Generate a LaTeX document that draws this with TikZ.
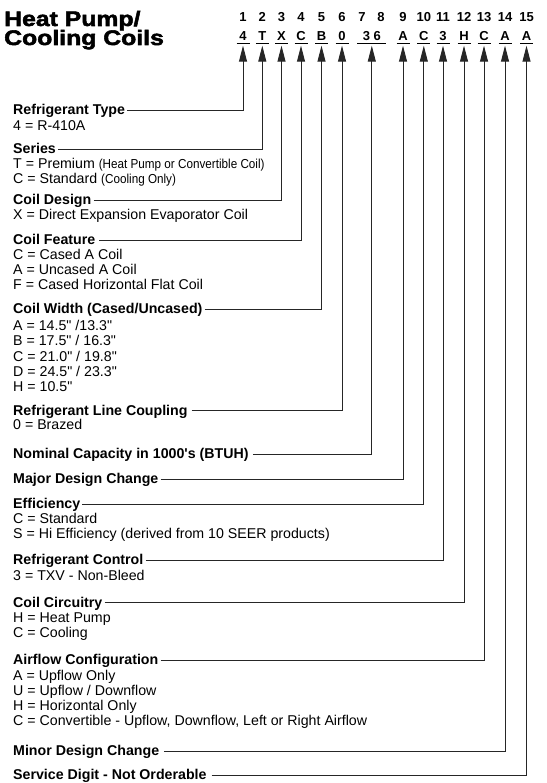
\documentclass[tikz,border=0pt]{standalone}
\usepackage{fontspec}
\usetikzlibrary{arrows.meta}
\setmainfont{Liberation Sans}[Ligatures=TeXOff]
\newfontfamily\hdrfont{Liberation Sans}[FakeStretch=1.18,FakeBold=2.5]
\newfontfamily\condfont{Liberation Sans}[FakeStretch=0.9]
\newcommand\cnd[1]{{\condfont\fontsize{13}{15}\selectfont #1}}
\tikzset{
  hdr/.style={anchor=base west,inner sep=0pt,font=\hdrfont\bfseries\fontsize{21}{21}\selectfont},
  posnum/.style={anchor=base,inner sep=0pt,font=\bfseries\fontsize{13}{13}\selectfont},
  ttl/.style={anchor=base west,inner sep=0pt,font=\bfseries\fontsize{14.2}{15}\selectfont},
  dsc/.style={anchor=base west,inner sep=0pt,font=\fontsize{14.2}{15}\selectfont},
  conn/.style={draw=black!85,line width=0.9pt,-{Triangle[width=8pt,length=16pt]}},
  uline/.style={draw=black,line width=1.2pt}
}
\begin{document}
\begin{tikzpicture}[x=1pt,y=-1pt]
\useasboundingbox (0,0) rectangle (546,783);
% header
\node[hdr] (h1) at (4,26) {Heat Pump/};
\node[hdr] (h2) at (4,45) {Cooling Coils};
% position numbers
\node[posnum] (n1) at (243,21.5) {1};
\node[posnum] (n2) at (262.3,21.5) {2};
\node[posnum] (n3) at (281.5,21.5) {3};
\node[posnum] (n4) at (301,21.5) {4};
\node[posnum] (n5) at (321.5,21.5) {5};
\node[posnum] (n6) at (342,21.5) {6};
\node[posnum] (n7) at (362,21.5) {7};
\node[posnum] (n8) at (381,21.5) {8};
\node[posnum] (n9) at (403,21.5) {9};
\node[posnum] (n10) at (423.8,21.5) {10};
\node[posnum] (n11) at (443,21.5) {11};
\node[posnum] (n12) at (464,21.5) {12};
\node[posnum] (n13) at (484,21.5) {13};
\node[posnum] (n14) at (505,21.5) {14};
\node[posnum] (n15) at (526.5,21.5) {15};
% model letters
\node[posnum] (l1) at (243,40.5) {4};
\node[posnum] (l2) at (262.3,40.5) {T};
\node[posnum] (l3) at (281.5,40.5) {X};
\node[posnum] (l4) at (301,40.5) {C};
\node[posnum] (l5) at (321.5,40.5) {B};
\node[posnum] (l6) at (342,40.5) {0};
\node[posnum] (l78) at (371.8,40.5) {3 6};
\node[posnum] (l9) at (403,40.5) {A};
\node[posnum] (l10) at (423.8,40.5) {C};
\node[posnum] (l11) at (443,40.5) {3};
\node[posnum] (l12) at (464,40.5) {H};
\node[posnum] (l13) at (484,40.5) {C};
\node[posnum] (l14) at (505,40.5) {A};
\node[posnum] (l15) at (526.5,40.5) {A};
% underlines
\foreach \n in {1,2,3,4,5,6,9,10,11,12,13,14,15}{
  \draw[uline] ([xshift=-6.5pt,yshift=-3.3pt]l\n.base) -- ([xshift=6.5pt,yshift=-3.3pt]l\n.base);
}
\draw[uline] ([xshift=-14.5pt,yshift=-3.3pt]l78.base) -- ([xshift=14pt,yshift=-3.3pt]l78.base);
% arrow tips
\foreach \n in {1,2,3,4,5,6,78,9,10,11,12,13,14,15}{
  \coordinate (a\n) at ([yshift=-5.2pt]l\n.base);
}
% titles and descriptions
\node[ttl] (t1) at (13,115) {Refrigerant Type};
\node[dsc] (d1a) at (13,130.5) {4 = R-410A};
\node[ttl] (t2) at (13,153.3) {Series};
\node[dsc] (d2a) at (13,168.7) {T = Premium \cnd{(Heat Pump or Convertible Coil)}};
\node[dsc] (d2b) at (13,183.7) {C = Standard \cnd{(Cooling Only)}};
\node[ttl] (t3) at (13,204.3) {Coil Design};
\node[dsc] (d3a) at (13,219.7) {X = Direct Expansion Evaporator Coil};
\node[ttl] (t4) at (13,244.3) {Coil Feature};
\node[dsc] (d4a) at (13,259.3) {C = Cased A Coil};
\node[dsc] (d4b) at (13,274.6) {A = Uncased A Coil};
\node[dsc] (d4c) at (13,289.9) {F = Cased Horizontal Flat Coil};
\node[ttl] (t5) at (13,313.8) {Coil Width (Cased/Uncased)};
\node[dsc] (d5a) at (13,330) {A = 14.5" /13.3"};
\node[dsc] (d5b) at (13,345.5) {B = 17.5" / 16.3"};
\node[dsc] (d5c) at (13,361) {C = 21.0" / 19.8"};
\node[dsc] (d5d) at (13,376.3) {D = 24.5" / 23.3"};
\node[dsc] (d5e) at (13,391) {H = 10.5"};
\node[ttl] (t6) at (13,415) {Refrigerant Line Coupling};
\node[dsc] (d6a) at (13,429.7) {0 = Brazed};
\node[ttl] (t78) at (13,458.8) {Nominal Capacity in 1000's (BTUH)};
\node[ttl] (t9) at (13,483.7) {Major Design Change};
\node[ttl] (t10) at (13,508.3) {Efficiency};
\node[dsc] (d10a) at (13,523.7) {C = Standard};
\node[dsc] (d10b) at (13,538.7) {S = Hi Efficiency (derived from 10 SEER products)};
\node[ttl] (t11) at (13,564.7) {Refrigerant Control};
\node[dsc] (d11a) at (13,580.3) {3 = TXV - Non-Bleed};
\node[ttl] (t12) at (13,607) {Coil Circuitry};
\node[dsc] (d12a) at (13,622.5) {H = Heat Pump};
\node[dsc] (d12b) at (13,637.5) {C = Cooling};
\node[ttl] (t13) at (13,664.5) {Airflow Configuration};
\node[dsc] (d13a) at (13,680) {A = Upflow Only};
\node[dsc] (d13b) at (13,695) {U = Upflow / Downflow};
\node[dsc] (d13c) at (13,710) {H = Horizontal Only};
\node[dsc] (d13d) at (13,725) {C = Convertible - Upflow, Downflow, Left or Right Airflow};
\node[ttl] (t14) at (13,755.5) {Minor Design Change};
\node[ttl] (t15) at (13,779.8) {Service Digit - Not Orderable};
% connectors
\foreach \n/\g in {1/2,2/2,3/2,4/4,5/2,6/4,78/4,9/2,10/2,11/2,12/2,13/2,14/4.5,15/5}{
  \draw[conn] ([xshift=\g pt,yshift=4.2pt]t\n.base east) -| (a\n);
}
\end{tikzpicture}
\end{document}
